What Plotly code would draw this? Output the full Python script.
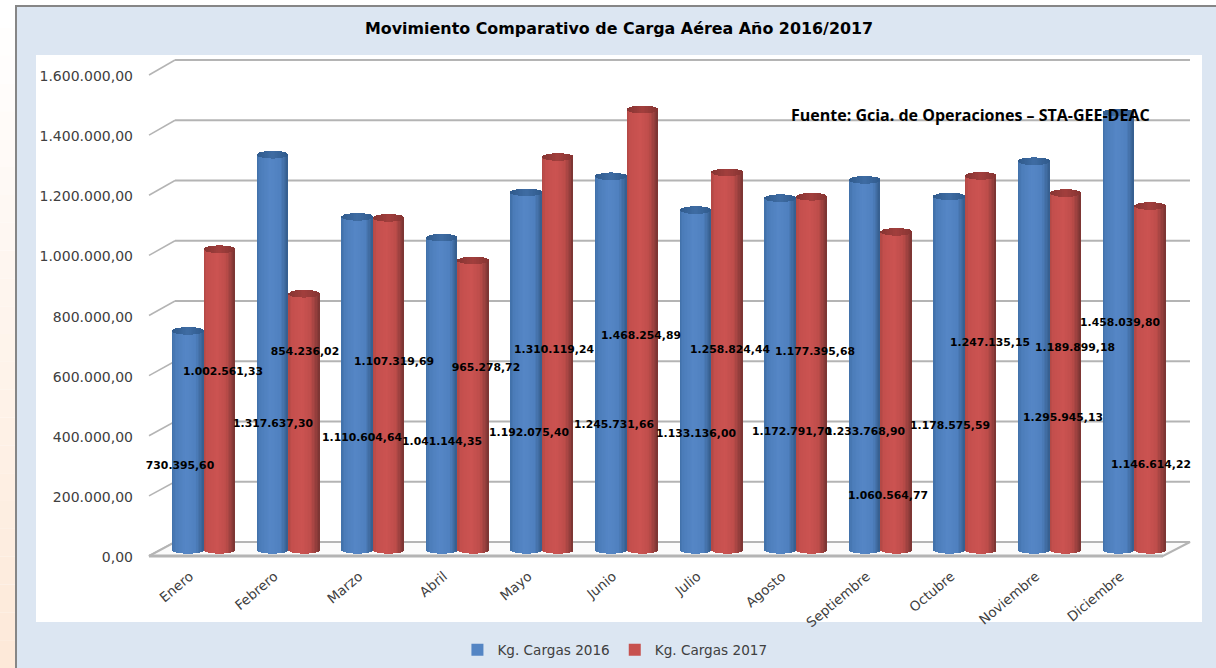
import math
import plotly.graph_objects as go

# ---------- data ----------
months = ["Enero", "Febrero", "Marzo", "Abril", "Mayo", "Junio", "Julio", "Agosto",
          "Septiembre", "Octubre", "Noviembre", "Diciembre"]
cargas_2016 = [730395.60, 1317637.30, 1110604.64, 1041144.35, 1192075.40, 1245731.66,
               1133136.00, 1172791.70, 1233768.90, 1178575.59, 1295945.13, 1458039.80]
cargas_2017 = [1002561.33, 854236.02, 1107319.69, 965278.72, 1310119.24, 1468254.89,
               1258824.44, 1177395.68, 1060564.77, 1247135.15, 1189899.18, 1146614.22]
y_ticks = [0, 200000, 400000, 600000, 800000, 1000000, 1200000, 1400000, 1600000]
y_tick_labels = ["0,00", "200.000,00", "400.000,00", "600.000,00", "800.000,00",
                 "1.000.000,00", "1.200.000,00", "1.400.000,00", "1.600.000,00"]

# hand placement of the value labels as in the reference (page pixels)
label_x_2016 = [180, 273, 362, 442, 529, 614, 696, 792, 865, 950, 1063, 1120]
label_y_2016 = [466, 424, 438, 442, 433, 425, 434, 432, 432, 426, 418, 323]
label_x_2017 = [223, 305, 394, 486, 554, 641, 730, 815, 888, 990, 1075, 1151]
label_y_2017 = [372, 352, 362, 368, 350, 336, 350, 352, 496, 343, 348, 465]

# ---------- page geometry ----------
W, H = 1216, 668
PLOT_BOTTOM = 565
GROUP = 84.6
X0 = 204.0
BAR_PX = 31.5
SLICES = 22


def x_of(px):
    return (px - X0) / GROUP


def axis_range(zero_px, top_px):
    scale = (zero_px - top_px) / 1600000
    return [(zero_px - PLOT_BOTTOM) / scale, zero_px / scale]


bar_range = axis_range(550, 70)
front_range = axis_range(557.5, 76)
back_range = axis_range(542, 60)
BAR_SCALE = 480 / 1600000


def y_of(px):
    return (550 - px) / BAR_SCALE


def hexmix(stops, t):
    for (t0, c0), (t1, c1) in zip(stops, stops[1:]):
        if t <= t1:
            f = (t - t0) / (t1 - t0)
            rgb = [round(int(c0[i:i + 2], 16) * (1 - f) + int(c1[i:i + 2], 16) * f) for i in (1, 3, 5)]
            return "#%02x%02x%02x" % tuple(rgb)
    return stops[-1][1]


BLUE = [(0, "#4070a8"), (0.12, "#4c7dba"), (0.45, "#5586c6"), (0.75, "#4f80bf"), (1, "#355d8c")]
RED = [(0, "#b04744"), (0.12, "#c44f4d"), (0.45, "#cb5351"), (0.72, "#bd4d4a"), (1, "#783432")]
BLUE_CAP = [(0, "#2f5a8c"), (0.5, "#3f6ca3"), (1, "#2f5a8c")]
RED_CAP = [(0, "#853432"), (0.5, "#a23f3d"), (1, "#853432")]

fig = go.Figure()
xs = list(range(len(months)))


def cylinders(values, name, left_px, body, cap):
    top_dy = 3.8 / BAR_SCALE
    bottom_dy = 3.6 / BAR_SCALE
    for k in range(SLICES):
        t = (k + 0.5) / SLICES
        e = math.sqrt(max(0.0, 1 - (2 * t - 1) ** 2))
        off = (left_px + BAR_PX * k / SLICES) / GROUP
        wid = BAR_PX / SLICES * 1.5 / GROUP
        if k == SLICES - 1:
            wid = BAR_PX / SLICES / GROUP
        fig.add_trace(go.Bar(
            x=xs, y=[v + e * bottom_dy for v in values], base=-e * bottom_dy,
            offset=off, width=wid, marker=dict(color=hexmix(body, t), line_width=0),
            name=name, showlegend=k == SLICES // 2, hoverinfo="skip"))
    for k in range(SLICES):
        t = (k + 0.5) / SLICES
        e = math.sqrt(max(0.0, 1 - (2 * t - 1) ** 2))
        off = (left_px + BAR_PX * k / SLICES) / GROUP
        wid = BAR_PX / SLICES * 1.5 / GROUP
        if k == SLICES - 1:
            wid = BAR_PX / SLICES / GROUP
        fig.add_trace(go.Bar(
            x=xs, y=[2 * e * top_dy] * len(values), base=[v - e * top_dy for v in values],
            offset=off, width=wid, marker=dict(color=hexmix(cap, t), line_width=0),
            showlegend=False, hoverinfo="skip"))


cylinders(cargas_2016, "Kg. Cargas 2016", -32, BLUE, BLUE_CAP)
cylinders(cargas_2017, "Kg. Cargas 2017", -0.5, RED, RED_CAP)


def fmt(v):
    return f"{v:,.2f}".replace(",", "#").replace(".", ",").replace("#", ".")


for values, lx, ly in ((cargas_2016, label_x_2016, label_y_2016),
                       (cargas_2017, label_x_2017, label_y_2017)):
    fig.add_trace(go.Scatter(
        x=[x_of(p) for p in lx], y=[y_of(p) for p in ly], mode="text",
        text=[fmt(v) for v in values], textposition="middle center",
        textfont=dict(family="DejaVu Sans", size=10.8, color="#000000", weight="bold"),
        showlegend=False, hoverinfo="skip", cliponaxis=False))

# helper traces so the front (labels) and back (wall) value axes exist
fig.add_trace(go.Scatter(x=[0], y=[0], yaxis="y2", mode="markers", opacity=0, showlegend=False, hoverinfo="skip"))
fig.add_trace(go.Scatter(x=[0], y=[0], yaxis="y3", mode="markers", opacity=0, showlegend=False, hoverinfo="skip"))

# ---------- page furniture ----------
shapes = []
PEACH_STEPS = 24
for i in range(PEACH_STEPS):
    f = i / (PEACH_STEPS - 1)
    col = "#%02x%02x%02x" % (round(255 - 2 * f), round(255 - 22 * f), round(255 - 38 * f))
    shapes.append(dict(type="rect", xref="paper", yref="paper", layer="below",
                       x0=0, x1=16 / W, y0=1 - (i + 1) / PEACH_STEPS, y1=1 - i / PEACH_STEPS,
                       fillcolor=col, line_width=0))
shapes.append(dict(type="rect", xref="paper", yref="paper", layer="below",
                   x0=16 / W, x1=1.01, y0=-0.01, y1=1 - 6 / H,
                   fillcolor="#dce6f2", line=dict(color="#868686", width=2)))
shapes.append(dict(type="rect", xref="paper", yref="paper", layer="below",
                   x0=36 / W, x1=1202 / W, y0=1 - 622 / H, y1=1 - 55 / H,
                   fillcolor="#ffffff", line_width=0))

GRID = "#b4b4b4"
XF0, XB0, XB1, XF1 = x_of(149), x_of(175), x_of(1190), x_of(1163)
for v in y_ticks:
    shapes.append(dict(type="line", xref="x", yref="y3", layer="below",
                       x0=XB0, x1=XB1, y0=v, y1=v, line=dict(color=GRID, width=2)))
    # left wall diagonal, front end on the label axis and back end on the wall axis
    f_px = 556 - v * (556 - 75) / 1600000
    b_px = 542 - v * (542 - 60) / 1600000
    shapes.append(dict(type="line", xref="x", yref="paper", layer="below",
                       x0=XF0, x1=XB0, y0=1 - f_px / H, y1=1 - b_px / H,
                       line=dict(color=GRID, width=1.5)))
shapes.append(dict(type="path", xref="paper", yref="paper", layer="below",
                   path=f"M {149/W} {1-556/H} L {1163/W} {1-556/H} L {1190/W} {1-542/H} L {175/W} {1-542/H} Z",
                   fillcolor="#fbfbfb", line=dict(color=GRID, width=2)))
shapes.append(dict(type="line", xref="paper", yref="paper", layer="below",
                   x0=149 / W, x1=1163 / W, y0=1 - 556 / H, y1=1 - 556 / H,
                   line=dict(color=GRID, width=3)))

domain = [1 - PLOT_BOTTOM / H, 1]
fig.update_layout(
    width=W, height=H, autosize=False,
    margin=dict(l=0, r=0, t=0, b=0),
    paper_bgcolor="#ffffff", plot_bgcolor="rgba(0,0,0,0)",
    barmode="overlay", bargap=0, shapes=shapes,
    font=dict(family="DejaVu Sans", color="#404040"),
    xaxis=dict(range=[x_of(0), x_of(W)], domain=[0, 1], showgrid=False, zeroline=False, showline=False,
               tickmode="array", tickvals=xs, ticktext=months, tickangle=-40, ticklen=0,
               tickfont=dict(family="DejaVu Sans", size=13.5, color="#404040"),
               ticklabelshift=-14, ticklabelstandoff=0),
    yaxis=dict(domain=domain, range=bar_range, visible=False, fixedrange=True),
    yaxis2=dict(overlaying="y", anchor="free", position=133 / W, side="left", range=front_range,
                tickmode="array", tickvals=y_ticks, ticktext=y_tick_labels, showgrid=False,
                zeroline=False, showline=False, ticklen=0,
                tickfont=dict(family="DejaVu Sans", size=14, color="#404040")),
    yaxis3=dict(overlaying="y", range=back_range, visible=False),
    legend=dict(orientation="h", x=0.5057, xanchor="center", y=18 / H, yanchor="middle",
                bgcolor="rgba(0,0,0,0)", font=dict(family="DejaVu Sans", size=13.6, color="#404040"),
                traceorder="normal", itemclick=False, itemdoubleclick=False),
    annotations=[
        dict(text="<b>Movimiento Comparativo de Carga Aérea Año 2016/2017</b>", xref="paper", yref="paper",
             x=619 / W, y=1 - 28 / H, xanchor="center", yanchor="middle", showarrow=False,
             font=dict(family="DejaVu Sans", size=15.9, color="#000000")),
        dict(text="<b>Fuente: Gcia. de Operaciones – STA-GEE-DEAC</b>", xref="paper", yref="paper",
             x=970 / W, y=1 - 115 / H, xanchor="center", yanchor="middle", showarrow=False,
             font=dict(family="Open Sans", size=16, color="#000000")),
    ],
)

fig.write_html("out.html", config={"displayModeBar": False},
               post_script="document.body.style.margin='0';document.documentElement.style.overflow='hidden';")
